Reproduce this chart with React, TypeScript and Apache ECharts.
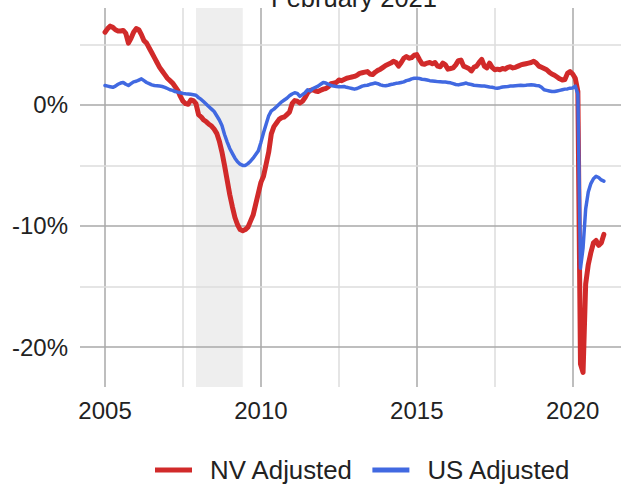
import React, { useEffect, useRef } from "react";
import * as echarts from "echarts";

const START_YEAR = 2005;
const nvAdjusted: number[] = [
  // 2005
  6.0, 6.3, 6.5, 6.4, 6.2, 6.1, 6.1, 6.15, 5.9, 5.1, 5.5, 6.0,
  // 2006
  6.3, 6.2, 5.8, 5.3, 5.1, 4.7, 4.3, 3.9, 3.5, 3.1, 2.8, 2.5,
  // 2007
  2.2, 2.0, 1.8, 1.5, 1.2, 0.7, 0.3, 0.1, 0.05, 0.4, 0.35, 0.1,
  // 2008
  -0.8, -1.0, -1.25, -1.4, -1.6, -1.75, -2.0, -2.35, -3.0, -3.9, -5.0, -6.2,
  // 2009
  -7.4, -8.4, -9.3, -9.9, -10.3, -10.4, -10.3, -10.1, -9.6, -9.1, -8.2, -7.3,
  // 2010
  -6.4, -5.9, -4.9, -3.9, -2.4, -1.8, -1.5, -1.2, -1.05, -1.0, -0.8, -0.6,
  // 2011
  0.1, 0.35, 0.3, 0.15, 0.3, 0.6, 1.0, 1.2, 1.25, 1.15, 1.1, 1.2,
  // 2012
  1.3, 1.35, 1.5, 1.75, 1.8, 1.85, 2.05, 2.0, 2.1, 2.2, 2.25, 2.3,
  // 2013
  2.35, 2.45, 2.6, 2.65, 2.7, 2.75, 2.55, 2.5, 2.7, 2.85, 2.95, 3.1,
  // 2014
  3.25, 3.35, 3.45, 3.6, 3.5, 3.2, 3.5, 3.85, 4.0, 3.85, 3.9, 4.1,
  // 2015
  4.15, 3.75, 3.4, 3.35, 3.45, 3.5, 3.4, 3.5, 3.2, 3.15, 3.45, 3.3,
  // 2016
  2.95, 3.0, 3.05, 3.3, 3.65, 3.7, 3.2, 3.1, 3.0, 2.8, 3.1, 3.2,
  // 2017
  3.5, 3.75, 3.2, 3.05, 3.45, 3.1, 2.9, 2.95, 2.9, 3.0, 2.95, 3.1,
  // 2018
  3.15, 3.05, 3.1, 3.2, 3.3, 3.35, 3.4, 3.45, 3.5, 3.6, 3.45, 3.2,
  // 2019
  3.1, 3.0, 2.9, 2.7, 2.55, 2.45, 2.3, 2.15, 2.05, 2.1, 2.6, 2.75,
  // 2020
  2.55, 2.2, 1.1, -21.4, -22.1, -14.8, -13.2, -12.2, -11.4, -11.2, -11.6, -11.4,
  // 2021
  -10.7,
];
const usAdjusted: number[] = [
  // 2005
  1.6, 1.55, 1.5, 1.45, 1.55, 1.7, 1.8, 1.85, 1.7, 1.6, 1.75, 1.9,
  // 2006
  1.95, 2.05, 2.15, 2.0, 1.85, 1.75, 1.65, 1.6, 1.58, 1.55, 1.52, 1.45,
  // 2007
  1.35, 1.25, 1.2, 1.1, 1.05, 1.0, 0.95, 0.92, 0.9, 0.87, 0.84, 0.8,
  // 2008
  0.6, 0.45, 0.25, 0.05, -0.15, -0.35, -0.55, -0.9, -1.25, -1.7, -2.45, -3.05,
  // 2009
  -3.6, -4.0, -4.4, -4.7, -4.9, -5.0, -5.0, -4.85, -4.65, -4.4, -4.1, -3.8,
  // 2010
  -3.1, -2.3, -1.6, -0.9, -0.5, -0.35, -0.15, 0.05, 0.25, 0.4, 0.55, 0.75,
  // 2011
  0.9, 1.0, 0.95, 0.7, 0.85, 1.0, 1.25, 1.15, 1.35, 1.45, 1.55, 1.7,
  // 2012
  1.85, 1.8, 1.7, 1.6, 1.55, 1.52, 1.5, 1.5, 1.52, 1.45, 1.4, 1.35,
  // 2013
  1.3, 1.35, 1.45, 1.55, 1.6, 1.62, 1.7, 1.75, 1.8, 1.75, 1.65, 1.6,
  // 2014
  1.58, 1.62, 1.68, 1.72, 1.78, 1.8, 1.85, 1.9, 2.0, 2.05, 2.15, 2.2,
  // 2015
  2.2, 2.18, 2.12, 2.1, 2.05, 2.0, 1.98, 1.95, 1.92, 1.9, 1.88, 1.88,
  // 2016
  1.85, 1.82, 1.75, 1.68, 1.65, 1.7, 1.75, 1.8, 1.72, 1.68, 1.62, 1.6,
  // 2017
  1.58, 1.55, 1.55, 1.52, 1.48, 1.45, 1.4, 1.38, 1.42, 1.48, 1.5, 1.52,
  // 2018
  1.55, 1.55, 1.58, 1.6, 1.62, 1.6, 1.62, 1.65, 1.66, 1.64, 1.6, 1.58,
  // 2019
  1.45, 1.25, 1.2, 1.15, 1.1, 1.1, 1.15, 1.2, 1.25, 1.3, 1.32, 1.38,
  // 2020
  1.4, 1.55, 0.9, -13.5, -11.8, -8.6, -7.2, -6.5, -6.1, -5.9, -6.0, -6.2,
  // 2021
  -6.3,
];
const xTickLabels = [2005, 2010, 2015, 2020];
const xMinorLines = [2007.5, 2012.5, 2017.5];
const yTickLabels = [0, -10, -20];
const yMinorLines = [5, -5, -15];
const recession = [2007.917, 2009.417];
const titleText = "February 2021";
const seriesNames = ["NV Adjusted", "US Adjusted"];

const FONT = "'Liberation Sans', Arial, sans-serif";

export default function App() {
  const ref = useRef<HTMLDivElement>(null);
  useEffect(() => {
    document.body.style.margin = "0";
    if (!ref.current) return;
    const chart = echarts.init(ref.current, null, { renderer: "svg" });
    const toPairs = (arr: number[]) =>
      arr.map((v, i) => [START_YEAR + i / 12, v]);
    const major = { color: "#a9a9a9", width: 1.5, type: "solid" as const };
    const minor = { color: "#dcdcdc", width: 1.5, type: "solid" as const };
    const gridData: any[] = [
      ...xTickLabels.map((v) => ({ xAxis: v, lineStyle: major })),
      ...xMinorLines.map((v) => ({ xAxis: v, lineStyle: minor })),
      ...yTickLabels.map((v) => ({ yAxis: v, lineStyle: major })),
      ...yMinorLines.map((v) => ({ yAxis: v, lineStyle: minor })),
    ];
    chart.setOption({
      animation: false,
      grid: { left: 80, right: 0, top: 8, bottom: 98, containLabel: false },
      xAxis: {
        type: "value",
        min: 2004.197,
        max: 2021.55,
        splitLine: { show: false },
        axisLine: { show: false },
        axisTick: { show: false },
        axisLabel: {
          customValues: xTickLabels,
          formatter: (v: number) => String(Math.round(v)),
          fontSize: 24,
          fontFamily: FONT,
          color: "#222",
          margin: 11,
        },
      },
      yAxis: {
        type: "value",
        min: -23.3,
        max: 8.0,
        splitLine: { show: false },
        axisLine: { show: false },
        axisTick: { show: false },
        axisLabel: {
          customValues: yTickLabels,
          formatter: (v: number) => `${Math.round(v)}%`,
          fontSize: 24,
          fontFamily: FONT,
          color: "#222",
          margin: 12,
        },
      },
      legend: {
        data: seriesNames,
        left: 155,
        top: 457,
        padding: 0,
        icon: "rect",
        itemWidth: 37,
        itemHeight: 5,
        itemGap: 19,
        textStyle: {
          fontSize: 25.8,
          fontFamily: FONT,
          color: "#222",
          padding: [0, 0, 0, 13],
        },
      },
      graphic: [
        {
          type: "text",
          x: 354,
          y: -2,
          style: {
            text: titleText,
            fontSize: 25.5,
            fontFamily: FONT,
            fill: "#222",
            textAlign: "center",
            textVerticalAlign: "middle",
          },
        },
      ],
      series: [
        {
          type: "line",
          name: "_recession",
          data: [[2010, 0]],
          symbol: "none",
          lineStyle: { opacity: 0 },
          silent: true,
          z: 1,
          markArea: {
            silent: true,
            z: 1,
            itemStyle: { color: "#eeeeee" },
            data: [[{ xAxis: recession[0] }, { xAxis: recession[1] }]],
          },
        },
        {
          type: "line",
          name: "_grid",
          data: [[2010, 0]],
          symbol: "none",
          lineStyle: { opacity: 0 },
          silent: true,
          z: 2,
          markLine: {
            silent: true,
            z: 2,
            symbol: ["none", "none"],
            label: { show: false },
            data: gridData,
          },
        },
        {
          type: "line",
          name: seriesNames[0],
          data: toPairs(nvAdjusted),
          showSymbol: false,
          symbol: "none",
          color: "#d12a2a",
          lineStyle: { width: 5, color: "#d12a2a", cap: "round", join: "round" },
          z: 5,
        },
        {
          type: "line",
          name: seriesNames[1],
          data: toPairs(usAdjusted),
          showSymbol: false,
          symbol: "none",
          color: "#4169e1",
          lineStyle: { width: 3.5, color: "#4169e1", cap: "round", join: "round" },
          z: 6,
        },
      ],
    });
    return () => chart.dispose();
  }, []);
  return <div ref={ref} style={{ width: 621, height: 485 }} />;
}
